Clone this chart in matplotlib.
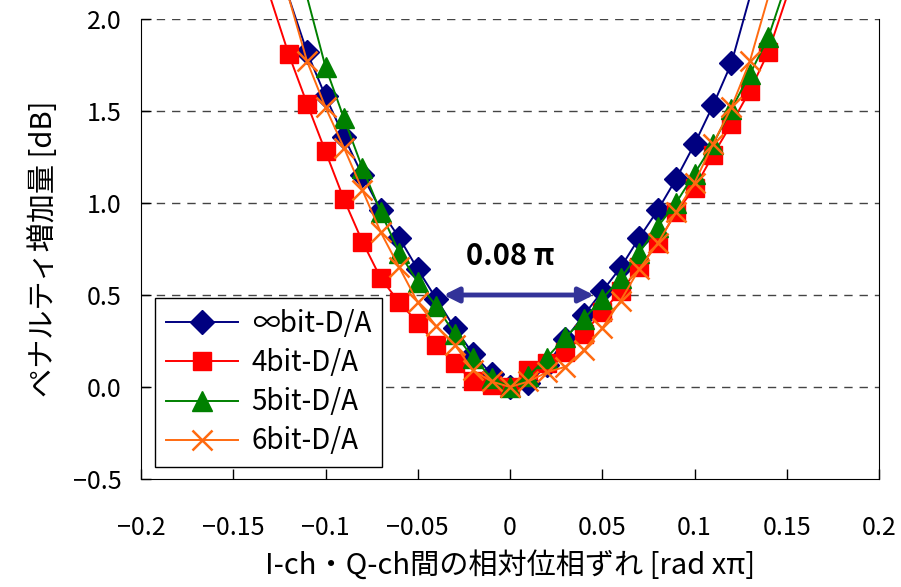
import numpy as np
import matplotlib
matplotlib.use('Agg')
from matplotlib import pyplot as plt

plt.rcParams['font.family'] = ['Noto Sans CJK JP', 'DejaVu Sans']

# データ (x: rad x pi, y: dB)
x_inf = [-0.12, -0.11, -0.10, -0.09, -0.08, -0.07, -0.06, -0.05, -0.04, -0.03, -0.02, -0.01, 0.0,
         0.01, 0.02, 0.03, 0.04, 0.05, 0.06, 0.07, 0.08, 0.09, 0.10, 0.11, 0.12, 0.13]
y_inf = [2.12, 1.82, 1.58, 1.36, 1.15, 0.96, 0.81, 0.64, 0.48, 0.32, 0.18, 0.07, 0.0,
         0.02, 0.12, 0.26, 0.39, 0.52, 0.65, 0.81, 0.96, 1.13, 1.32, 1.53, 1.76, 2.12]

x_4 = [-0.13, -0.12, -0.11, -0.10, -0.09, -0.08, -0.07, -0.06, -0.05, -0.04, -0.03, -0.02, -0.01, 0.0,
       0.01, 0.02, 0.03, 0.04, 0.05, 0.06, 0.07, 0.08, 0.09, 0.10, 0.11, 0.12, 0.13, 0.14, 0.15]
y_4 = [2.12, 1.81, 1.54, 1.28, 1.02, 0.79, 0.59, 0.46, 0.35, 0.23, 0.13, 0.03, 0.01, 0.0,
       0.09, 0.13, 0.19, 0.29, 0.41, 0.52, 0.65, 0.78, 0.95, 1.08, 1.26, 1.43, 1.61, 1.82, 2.12]

x_5 = [-0.11, -0.10, -0.09, -0.08, -0.07, -0.06, -0.05, -0.04, -0.03, -0.02, -0.01, 0.0,
       0.01, 0.02, 0.03, 0.04, 0.05, 0.06, 0.07, 0.08, 0.09, 0.10, 0.11, 0.12, 0.13, 0.14, 0.15]
y_5 = [2.12, 1.74, 1.46, 1.19, 0.95, 0.73, 0.57, 0.44, 0.29, 0.16, 0.05, 0.0,
       0.06, 0.16, 0.27, 0.37, 0.48, 0.59, 0.73, 0.87, 1.00, 1.16, 1.32, 1.51, 1.70, 1.90, 2.20]

x_6 = [-0.12, -0.11, -0.10, -0.09, -0.08, -0.07, -0.06, -0.05, -0.04, -0.03, -0.02, -0.01, 0.0,
       0.01, 0.02, 0.03, 0.04, 0.05, 0.06, 0.07, 0.08, 0.09, 0.10, 0.11, 0.12, 0.13, 0.14]
y_6 = [2.12, 1.77, 1.52, 1.30, 1.07, 0.84, 0.65, 0.46, 0.33, 0.23, 0.09, 0.03, 0.0,
       0.03, 0.08, 0.11, 0.20, 0.32, 0.47, 0.64, 0.78, 0.95, 1.11, 1.32, 1.52, 1.77, 2.12]

labels = ['∞bit-D/A', '4bit-D/A', '5bit-D/A', '6bit-D/A']
xticks = [-0.2, -0.15, -0.1, -0.05, 0, 0.05, 0.1, 0.15, 0.2]
xticklabels = ['-0.2', '-0.15', '-0.1', '-0.05', '0', '0.05', '0.1', '0.15', '0.2']
yticks = [-0.5, 0.0, 0.5, 1.0, 1.5, 2.0]

fig = plt.figure(figsize=(9.01, 5.87), dpi=100)
ax = fig.add_axes([141/901, 1-479/587, (879-141)/901, (479-19)/587])

series = [
    (x_inf, y_inf, '#000080', 'D', 12, 1.0),
    (x_4, y_4, '#ff0000', 's', 13, 1.0),
    (x_5, y_5, '#008000', '^', 14, 1.0),
    (x_6, y_6, '#ff6a10', 'x', 14, 1.8),
]
for (xs, ys, c, m, ms, mew), lab in zip(series, labels):
    idx = [i for i, v in enumerate(ys) if v <= 2.0]
    ax.plot(xs, ys, color=c, lw=1.4, marker=m, ms=ms, mew=mew, mec=c, mfc=c,
            markevery=idx, label=lab, clip_on=False, zorder=3)

for yv in [0.0, 0.5, 1.0, 1.5, 2.0]:
    ax.axhline(yv, color='#444444', lw=1.0, ls=(0, (6, 5)), zorder=1)

ax.set_xlim(-0.2, 0.2)
ax.set_ylim(-0.5, 2.0)
ax.spines['top'].set_visible(False)
ax.set_xticks(xticks)
ax.set_xticklabels([t.replace('-', '−') for t in xticklabels])
ax.set_yticks(yticks)
ax.set_yticklabels(['−0.5', '0.0', '0.5', '1.0', '1.5', '2.0'])
ax.tick_params(axis='both', direction='in', length=7, labelsize=18, width=1)
ax.tick_params(axis='x', pad=26)
ax.tick_params(axis='y', pad=14)

ax.set_xlabel('I-ch・Q-ch間の相対位相ずれ [rad xπ]', fontsize=21, labelpad=7)
ax.set_ylabel('ペナルティ増加量 [dB]', fontsize=21, labelpad=10)

# 0.08π の矢印
ax.annotate('', xy=(-0.036, 0.5), xytext=(0.0455, 0.5),
            arrowprops=dict(arrowstyle='<|-|>', color='#333399', lw=3.5,
                            mutation_scale=22, shrinkA=0, shrinkB=0), zorder=4)
ax.text(0.0, 0.71, '0.08 π', fontsize=21, fontweight='bold', ha='center', va='center')

leg = ax.legend(loc='lower left', bbox_to_anchor=(0.019, 0.026), borderaxespad=0,
                fontsize=20, frameon=True, fancybox=False, edgecolor='black', framealpha=1,
                handlelength=2.6, labelspacing=0.33, borderpad=0.38, handletextpad=0.5)
leg.get_frame().set_linewidth(1.0)

fig.savefig('out.png', dpi=100)
